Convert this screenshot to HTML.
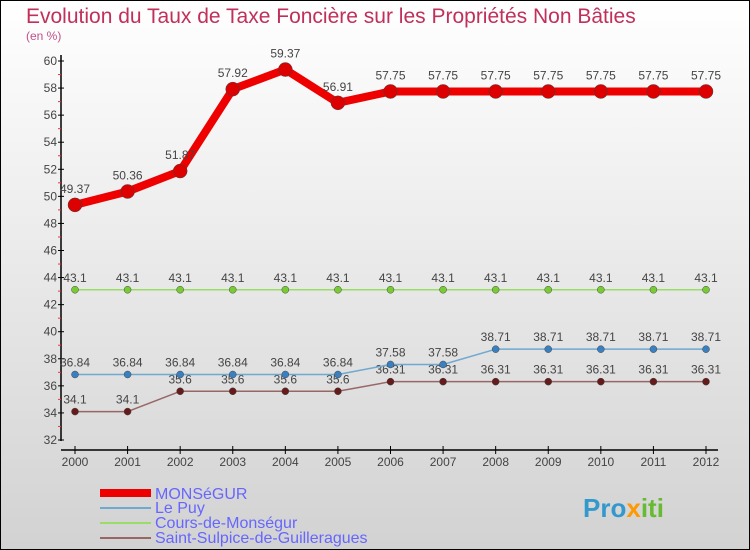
<!DOCTYPE html>
<html><head><meta charset="utf-8"><style>
body{margin:0;width:750px;height:550px;overflow:hidden;font-family:"Liberation Sans",sans-serif}
svg{display:block}
</style></head><body>
<svg id="chart" width="750" height="550" xmlns="http://www.w3.org/2000/svg">
<defs><linearGradient id="bg" x1="0" y1="0" x2="0" y2="1"><stop offset="0" stop-color="#ffffff"/><stop offset="1" stop-color="#d2d2d2"/></linearGradient></defs>
<rect x="0.5" y="0.5" width="749" height="549" fill="url(#bg)" stroke="#000"/>
<text x="26" y="23" font-size="21" fill="#c0305a">Evolution du Taux de Taxe Foncière sur les Propriétés Non Bâties</text>
<text x="26" y="40" font-size="12" fill="#c0508a">(en %)</text>
<g id="axes"></g><g id="series"></g>
<g>
<rect x="100" y="489" width="51" height="8" fill="#ee0000"/>
<text x="155" y="499" font-size="16" fill="#6666ff">MONSéGUR</text>
<rect x="100" y="507" width="51" height="2" fill="#6fa8d0"/>
<text x="155" y="513" font-size="16" fill="#6666ff">Le Puy</text>
<rect x="100" y="522" width="51" height="2" fill="#99dd66"/>
<text x="155" y="528" font-size="16" fill="#6666ff">Cours-de-Monségur</text>
<rect x="100" y="537" width="51" height="2" fill="#996666"/>
<text x="155" y="543" font-size="16" fill="#6666ff">Saint-Sulpice-de-Guilleragues</text>
</g>
<text x="583" y="517" font-size="26" font-weight="bold" fill="#3399cc">Pro<tspan fill="#ff9900">x</tspan><tspan fill="#66bb33">iti</tspan></text>
</svg>
<script>
const years=[2000,2001,2002,2003,2004,2005,2006,2007,2008,2009,2010,2011,2012];
const yTicks=[32,34,36,38,40,42,44,46,48,50,52,54,56,58,60];
const monsegur=[49.37,50.36,51.87,57.92,59.37,56.91,57.75,57.75,57.75,57.75,57.75,57.75,57.75];
const lePuy=[36.84,36.84,36.84,36.84,36.84,36.84,37.58,37.58,38.71,38.71,38.71,38.71,38.71];
const cours=[43.1,43.1,43.1,43.1,43.1,43.1,43.1,43.1,43.1,43.1,43.1,43.1,43.1];
const sulpice=[34.1,34.1,35.6,35.6,35.6,35.6,36.31,36.31,36.31,36.31,36.31,36.31,36.31];
const NS="http://www.w3.org/2000/svg";
const xs=i=>75+i*(706-75)/12;
const ys=v=>440-(v-32)*(440-61)/28;
function mk(tag,attrs,parent){const e=document.createElementNS(NS,tag);for(const k in attrs)e.setAttribute(k,attrs[k]);parent.appendChild(e);return e;}
const ax=document.getElementById('axes');
let l=mk('line',{x1:61,y1:55,x2:61,y2:441,stroke:'#000','stroke-width':1.5},ax);


l=mk('line',{x1:61,y1:450,x2:718,y2:450,stroke:'#000','stroke-width':1.5},ax);


yTicks.forEach(t=>{const y=ys(t);
 mk('line',{x1:58,y1:y,x2:64,y2:y,stroke:'#000'},ax);
 if(t<60) mk('line',{x1:58,y1:ys(t+1),x2:61,y2:ys(t+1),stroke:'#e33'},ax);
 const tx=mk('text',{x:57,y:y+4,'font-size':12,fill:'#444','text-anchor':'end'},ax);tx.textContent=t;
 
 
});
years.forEach((yr,i)=>{const x=xs(i);
 mk('line',{x1:x,y1:446,x2:x,y2:454,stroke:'#000'},ax);
 const tx=mk('text',{x:x,y:466,'font-size':12,fill:'#444','text-anchor':'middle'},ax);tx.textContent=yr;
 
 
});
const sg=document.getElementById('series');
function series(data,color,dot,w,r,name,labelDy){
 const g=mk('g',{},sg);
 
 
 mk('polyline',{points:data.map((v,i)=>xs(i)+','+ys(v)).join(' '),fill:'none',stroke:color,'stroke-width':w,'stroke-linejoin':'round'},g);
 data.forEach((v,i)=>{const c=mk('circle',{cx:xs(i),cy:ys(v),r:r,fill:dot,stroke:'#444','stroke-width':0.5},g);
  
  
  const t=mk('text',{x:xs(i),y:ys(v)+labelDy,'font-size':12,fill:'#444','text-anchor':'middle'},g);t.textContent=v;
  
  
 });
}
series(sulpice,'#996666','#661a1a',1.5,3.5,'saint-sulpice-series',-8);
series(lePuy,'#6fa8d0','#3a80c0',1.5,3.5,'le-puy-series',-8);
series(cours,'#99dd66','#77cc33',1.5,3.5,'cours-series',-8);
series(monsegur,'#ee0000','#dd0000',8,7,'monsegur-series',-12);
</script>
</body></html>
